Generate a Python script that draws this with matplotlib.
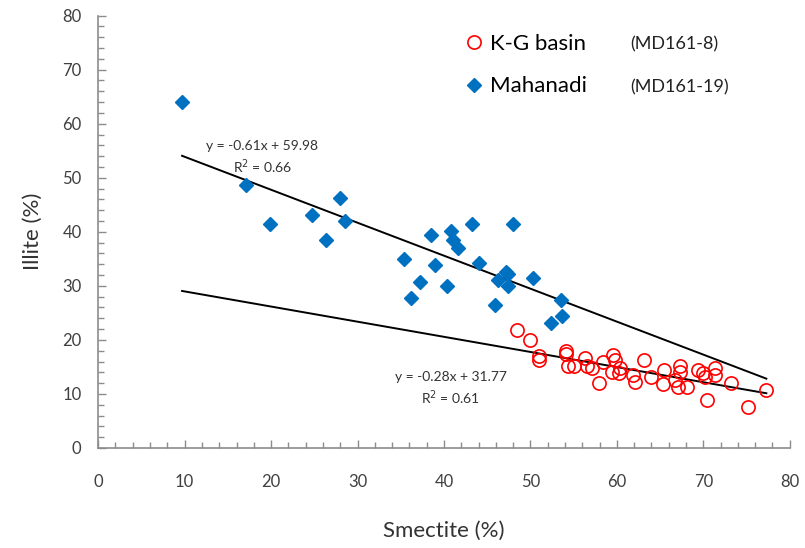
import matplotlib
matplotlib.use('Agg')
import matplotlib.pyplot as plt
import numpy as np

plt.rcParams['font.family'] = ['Lato', 'DejaVu Sans']

# Mahanadi (MD161-19): smectite %, illite %
mah_smectite = [9.7, 17.1, 19.9, 24.7, 26.4, 28.0, 28.6, 35.4, 36.2, 37.2,
                38.5, 39.0, 40.4, 40.8, 41.1, 41.6, 43.2, 44.0, 45.9, 46.3,
                47.2, 47.4, 47.4, 48.0, 50.3, 52.4, 53.5, 53.7]
mah_illite = [64.1, 48.6, 41.4, 43.2, 38.5, 46.2, 42.0, 35.0, 27.7, 30.8,
              39.4, 33.8, 30.0, 40.2, 38.5, 37.0, 41.4, 34.2, 26.5, 31.0,
              32.6, 32.2, 29.9, 41.5, 31.5, 23.2, 27.3, 24.5]

# K-G basin (MD161-8)
kg_smectite = [48.4, 50.0, 51.0, 51.0, 54.1, 54.1, 54.4, 55.0, 56.3, 56.5,
               57.1, 57.9, 58.4, 59.6, 59.8, 59.4, 60.2, 60.4, 61.9, 62.1,
               63.2, 64.0, 65.4, 65.3, 66.7, 67.3, 67.3, 67.1, 68.1, 69.4,
               70.2, 70.0, 71.3, 71.4, 70.4, 73.2, 75.2, 77.3]
kg_illite = [21.9, 20.0, 17.0, 16.2, 18.0, 17.4, 15.1, 15.2, 16.6, 15.1,
             14.8, 12.0, 16.0, 17.2, 16.3, 14.1, 13.8, 14.8, 13.5, 12.3,
             16.3, 13.2, 14.4, 11.8, 12.6, 15.1, 14.1, 11.3, 11.3, 14.4,
             13.2, 13.8, 14.8, 13.5, 8.9, 12.0, 7.6, 10.7]

# trendline coefficients as printed on the chart
mah_fit = (-0.61, 59.98, 0.66)
kg_fit = (-0.28, 31.77, 0.61)
fit_range = [9.7, 77.3]

fig = plt.figure(figsize=(8.05, 5.48), dpi=100)
ax = fig.add_axes([0.122, 0.1825, 0.859, 0.789])

ax.plot(kg_smectite, kg_illite, 'o', mfc='none', mec='#ff0000', ms=9.5,
        mew=1.2, label='K-G basin', zorder=3)
ax.plot(mah_smectite, mah_illite, 'D', color='#0070c0', ms=7,
        label='Mahanadi', zorder=3)

# trendlines
xs = np.array(fit_range)
for slope, icpt, r2 in (mah_fit, kg_fit):
    ax.plot(xs, slope * xs + icpt, color='black', lw=1.4, zorder=2)

ax.text(19.0, 55.9, 'y = -0.61x + 59.98', ha='center', va='center', fontsize=10, color='#333333')
ax.text(19.0, 52.0, 'R$^2$ = 0.66', ha='center', va='center', fontsize=10, color='#333333')
ax.text(40.8, 13.1, 'y = -0.28x + 31.77', ha='center', va='center', fontsize=10, color='#333333')
ax.text(40.8, 9.3, 'R$^2$ = 0.61', ha='center', va='center', fontsize=10, color='#333333')

leg = ax.legend(loc='upper left', bbox_to_anchor=(0.502, 0.993), frameon=False,
                fontsize=16, handletextpad=0.1, labelspacing=1.0,
                handlelength=1.2, borderpad=0.2)
ax.text(0.769, 0.933, '(MD161-8)', transform=ax.transAxes, fontsize=13,
        va='center', ha='left', color='#222222')
ax.text(0.769, 0.834, '(MD161-19)', transform=ax.transAxes, fontsize=13,
        va='center', ha='left', color='#222222')

ax.set_xlim(0, 80)
ax.set_ylim(0, 80)
ax.set_xticks(range(0, 81, 10))
ax.set_yticks(range(0, 81, 10))
ax.set_xticks(range(0, 81, 2), minor=True)
ax.set_yticks(range(0, 81, 2), minor=True)
ax.tick_params(which='both', direction='in', color='#8c8c8c', labelsize=12,
               labelcolor='#404040')
ax.tick_params(which='major', length=6, width=1)
ax.tick_params(which='minor', length=4, width=1)
ax.tick_params(axis='x', pad=19)
ax.tick_params(axis='y', pad=12)

for side in ('top', 'right'):
    ax.spines[side].set_visible(False)
for side in ('left', 'bottom'):
    ax.spines[side].set_color('#8c8c8c')
    ax.spines[side].set_linewidth(1.2)

ax.set_xlabel('Smectite (%)', fontsize=16, color='#333333', labelpad=22)
ax.set_ylabel('Illite (%)', fontsize=16, color='#333333', labelpad=14)

fig.savefig('out.png', dpi=100)
